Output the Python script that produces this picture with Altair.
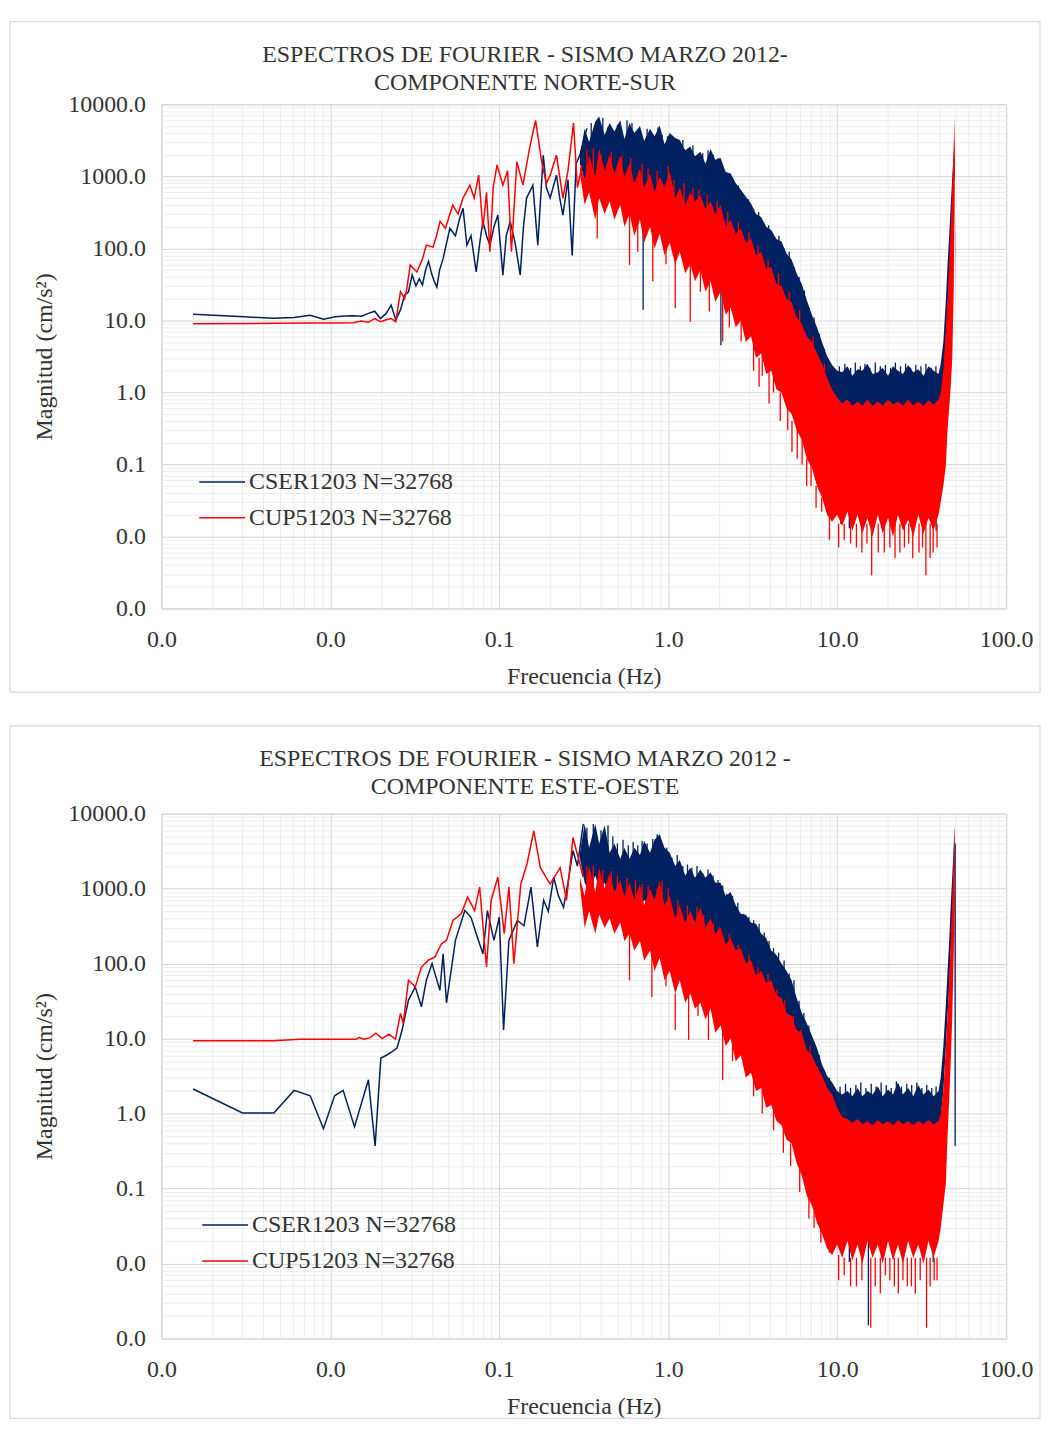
import altair as alt
import pandas as pd

FONT = "Liberation Serif"
NAVY = "#002060"
RED = "#FF0000"
CSER = "CSER1203 N=32768"
CUP = "CUP51203 N=32768"
TXT = "#333333"

TITLE_NS = ["ESPECTROS DE FOURIER - SISMO MARZO 2012-", "COMPONENTE NORTE-SUR"]
TITLE_EW = ["ESPECTROS DE FOURIER - SISMO MARZO 2012 -", "COMPONENTE ESTE-OESTE"]

# ---------- tick / grid values ----------
X_TICKS = [0.001, 0.002, 0.003, 0.004, 0.005, 0.006, 0.007, 0.008, 0.009,
           0.01, 0.02, 0.03, 0.04, 0.05, 0.06, 0.07, 0.08, 0.09,
           0.1, 0.2, 0.3, 0.4, 0.5, 0.6, 0.7, 0.8, 0.9,
           1, 2, 3, 4, 5, 6, 7, 8, 9,
           10, 20, 30, 40, 50, 60, 70, 80, 90, 100]
Y_TICKS = [0.001, 0.002, 0.003, 0.004, 0.005, 0.006, 0.007, 0.008, 0.009,
           0.01, 0.02, 0.03, 0.04, 0.05, 0.06, 0.07, 0.08, 0.09,
           0.1, 0.2, 0.3, 0.4, 0.5, 0.6, 0.7, 0.8, 0.9,
           1, 2, 3, 4, 5, 6, 7, 8, 9,
           10, 20, 30, 40, 50, 60, 70, 80, 90,
           100, 200, 300, 400, 500, 600, 700, 800, 900,
           1000, 2000, 3000, 4000, 5000, 6000, 7000, 8000, 9000, 10000]

# ---------- low-frequency (sparse) parts ----------
NS_CSER_LINE_F = [0.00154, 0.0031, 0.0046, 0.0061, 0.0076, 0.0091, 0.0107, 0.0122, 0.0137, 0.0153,
                  0.0168, 0.0183, 0.0198, 0.0214, 0.0229, 0.0244, 0.0260, 0.0275, 0.0290, 0.0305,
                  0.0321, 0.0336, 0.0351, 0.0366, 0.0381, 0.0397, 0.0412, 0.0427, 0.0443, 0.0465,
                  0.0488, 0.051, 0.055, 0.058, 0.061, 0.0643, 0.068, 0.073, 0.077, 0.080,
                  0.084, 0.088, 0.093, 0.098, 0.105, 0.110, 0.116, 0.124, 0.133, 0.139,
                  0.145, 0.158, 0.169, 0.182, 0.190, 0.200, 0.208, 0.218, 0.228, 0.238,
                  0.255, 0.270, 0.285, 0.300, 0.330]
NS_CSER_LINE_M = [12.2, 11.2, 10.7, 11.0, 11.8, 10.4, 11.2, 11.5, 11.6, 11.4,
                  12.5, 13.4, 10.6, 12.5, 16.3, 10.1, 14, 22.4, 25, 42.6,
                  30, 38, 31, 50, 66, 45, 35, 29, 50, 72,
                  120, 190, 150, 250, 360, 111, 150, 47, 130, 237,
                  150, 111, 200, 290, 42.6, 150, 237, 120, 42.6, 200,
                  500, 755, 111, 1970, 700, 500, 700, 1040, 500, 290,
                  900, 80, 1500, 1970, 4640]

NS_CUP_LINE_F = [0.00154, 0.0046, 0.0076, 0.0107, 0.0137, 0.0153, 0.0168, 0.0183, 0.0198, 0.0214,
                 0.0229, 0.0244, 0.0260, 0.0275, 0.0284, 0.0297, 0.0325, 0.0350, 0.0370, 0.0405,
                 0.0425, 0.0446, 0.0480, 0.0530, 0.0570, 0.0610, 0.0670, 0.0710, 0.0755, 0.0800,
                 0.0840, 0.0880, 0.0920, 0.0970, 0.1050, 0.1120, 0.1180, 0.1270, 0.1380, 0.1510,
                 0.1640, 0.1780, 0.1900, 0.2000, 0.2180, 0.2380, 0.2550, 0.2750, 0.2900, 0.3100]
NS_CUP_LINE_M = [9.0, 9.1, 9.2, 9.2, 9.3, 9.8, 9.4, 10.6, 9.6, 10.2,
                 10.6, 9.6, 25, 20, 28, 59, 47, 70, 111, 104,
                 150, 237, 190, 400, 300, 500, 755, 500, 1040, 190,
                 600, 90, 700, 1440, 755, 1200, 90, 1600, 755, 2450,
                 6000, 1600, 800, 1040, 1970, 500, 1200, 5500, 700, 1440]

EW_CSER_LINE_F = [0.00154, 0.00302, 0.00463, 0.0061, 0.0076, 0.0091, 0.0106, 0.0119, 0.0139, 0.0168,
                  0.0184, 0.0199, 0.0215, 0.0232, 0.0248, 0.0266, 0.0290, 0.0318, 0.0346, 0.0370,
                  0.0400, 0.0445, 0.0465, 0.0487, 0.0550, 0.0625, 0.0680, 0.0730, 0.0800, 0.0850,
                  0.0930, 0.1000, 0.1060, 0.1140, 0.1280, 0.1400, 0.1540, 0.1680, 0.1830, 0.1950,
                  0.2100, 0.2240, 0.2400, 0.2550, 0.2730, 0.2900, 0.3140]
EW_CSER_LINE_M = [2.13, 1.02, 1.02, 2.04, 1.73, 0.63, 1.73, 2.04, 0.67, 2.83,
                  0.37, 5.5, 6.0, 6.7, 7.5, 13, 32.6, 49, 26.6, 60,
                  100, 44, 135, 30, 204, 510, 415, 250, 135, 510,
                  204, 415, 13, 204, 377, 320, 1050, 167, 700, 500,
                  1420, 800, 565, 1200, 3200, 2000, 7300]

EW_CUP_LINE_F = [0.00154, 0.0046, 0.0066, 0.0107, 0.0142, 0.0148, 0.0158, 0.0172, 0.0186, 0.0203,
                 0.0222, 0.0243, 0.0260, 0.0270, 0.0290, 0.0318, 0.0346, 0.0380, 0.0416, 0.0455,
                 0.0487, 0.0532, 0.0595, 0.0650, 0.0714, 0.0765, 0.0840, 0.0895, 0.0980, 0.1070,
                 0.1140, 0.1220, 0.1340, 0.1460, 0.1600, 0.1750, 0.2000, 0.2290, 0.2500, 0.2730,
                 0.3140]
EW_CUP_LINE_M = [9.4, 9.4, 9.8, 9.8, 9.8, 10.4, 9.8, 10.3, 11.8, 10.0,
                 11.5, 9.8, 21.7, 16, 60, 49, 90, 111, 123, 184,
                 204, 377, 462, 770, 510, 1050, 90, 700, 1420, 250,
                 1050, 100, 1150, 2150, 5900, 1900, 1150, 1900, 700, 4800,
                 1420]

# ---------- dense part: envelope of the spectra (low / high) ----------
BAND_F = [0.30, 0.32, 0.34, 0.37, 0.39, 0.42, 0.45, 0.48, 0.52, 0.55,
          0.59, 0.63, 0.68, 0.72, 0.78, 0.83, 0.89, 0.95, 1.02, 1.10,
          1.17, 1.26, 1.35, 1.44, 1.55, 1.66, 1.78, 1.90, 2.04, 2.19,
          2.34, 2.51, 2.69, 2.88, 3.09, 3.31, 3.55, 3.80, 4.07, 4.37,
          4.68, 5.01, 5.37, 5.75, 6.17, 6.61, 7.08, 7.59, 8.13, 8.71,
          9.33, 10.0, 10.7, 11.5, 12.3, 13.2, 14.1, 15.1, 16.2, 17.4,
          18.6, 20.0, 21.4, 22.9, 24.5, 26.3, 28.2, 30.2, 32.4, 34.7,
          37.2, 39.8, 41.0, 42.5, 44.0, 45.0, 46.0, 47.0, 48.0, 49.0,
          49.5, 50.0]

NS_CSER_HI = [2000, 4600, 3000, 5800, 6800, 3800, 5500, 4200, 6000, 3300,
              5500, 4000, 5000, 3100, 4600, 3600, 5100, 2800, 4000, 3400,
              3200, 2300, 2600, 1900, 2200, 1500, 2400, 1700, 1800, 1150,
              1100, 800, 650, 520, 420, 300, 270, 200, 180, 135,
              125, 85, 70, 45, 32, 19, 12, 8, 5.0, 3.2,
              2.4, 2.0, 1.9, 2.3, 1.7, 2.1, 2.0, 2.5, 1.8, 1.9,
              2.2, 1.7, 2.3, 2.0, 1.8, 2.4, 1.9, 2.1, 1.7, 2.3,
              2.0, 1.8, 2.5, 5, 20, 60, 150, 400, 1000, 2000,
              3400, 100]
NS_CSER_LO = [1500, 900, 700, 1000, 800, 900, 700, 800, 700, 800,
              700, 600, 700, 500, 600, 500, 600, 400, 500, 300,
              300, 250, 250, 200, 220, 180, 200, 150, 150, 100,
              100, 70, 70, 50, 50, 35, 30, 20, 20, 12,
              10, 7, 6, 4, 3, 2, 1.5, 1.0, 0.8, 0.6,
              0.6, 0.62, 0.6, 0.65, 0.6, 0.62, 0.6, 0.65, 0.6, 0.62,
              0.6, 0.62, 0.6, 0.65, 0.6, 0.62, 0.6, 0.65, 0.6, 0.62,
              0.6, 0.6, 0.8, 1.5, 5, 15, 40, 100, 300, 800,
              1000, 30]
NS_CUP_HI = [1440, 900, 2000, 1000, 2450, 1200, 2000, 1100, 1970, 1000,
             1500, 800, 1300, 700, 1100, 600, 1000, 700, 1170, 500,
             700, 400, 600, 450, 550, 350, 450, 300, 400, 200,
             250, 160, 190, 120, 138, 80, 90, 52, 55, 32,
             30, 20, 18, 11, 9, 6, 5, 3.5, 2.5, 1.6,
             1.1, 0.85, 0.7, 0.8, 0.65, 0.75, 0.65, 0.8, 0.65, 0.75,
             0.65, 0.8, 0.68, 0.75, 0.65, 0.8, 0.66, 0.75, 0.65, 0.78,
             0.68, 0.8, 1.0, 2, 8, 20, 60, 200, 800, 3000,
             6800, 8]
NS_CUP_LO = [1100, 400, 600, 250, 500, 300, 450, 250, 400, 200,
             300, 150, 250, 120, 200, 100, 160, 80, 120, 60,
             90, 45, 60, 35, 50, 25, 35, 18, 25, 12,
             15, 8, 10, 5, 6, 3, 3.5, 1.8, 2, 1.1,
             1.0, 0.6, 0.5, 0.3, 0.22, 0.12, 0.09, 0.05, 0.035, 0.02,
             0.016, 0.02, 0.014, 0.022, 0.012, 0.02, 0.011, 0.018, 0.01, 0.02,
             0.011, 0.018, 0.01, 0.02, 0.012, 0.017, 0.01, 0.02, 0.011, 0.018,
             0.012, 0.02, 0.03, 0.05, 0.1, 0.3, 0.6, 1.2, 3, 30,
             1000, 8]

EW_CSER_HI = [3000, 7300, 3500, 7300, 4000, 7000, 3000, 4000, 2500, 3500,
              2500, 3500, 2800, 4300, 3000, 4500, 5300, 3500, 3000, 2000,
              2400, 1500, 1900, 1400, 1800, 1400, 1650, 1200, 1200, 800,
              900, 600, 460, 450, 350, 340, 250, 220, 150, 130,
              100, 80, 60, 35, 22, 16, 11, 7.5, 4.5, 3.2,
              2.6, 2.0, 1.8, 2.0, 1.7, 2.2, 1.7, 2.0, 1.8, 2.3,
              1.7, 2.1, 1.8, 2.6, 1.8, 2.2, 1.7, 2.4, 1.8, 2.1,
              1.7, 2.0, 3, 8, 30, 80, 200, 600, 1500, 4000,
              7000, 300]
EW_CSER_LO = [2500, 1200, 900, 1500, 1000, 1200, 800, 900, 700, 800,
              600, 700, 600, 700, 600, 700, 800, 500, 500, 300,
              300, 250, 250, 200, 220, 180, 200, 150, 150, 100,
              100, 70, 60, 50, 45, 35, 30, 25, 18, 15,
              12, 9, 7, 5, 3.5, 2.5, 1.8, 1.3, 1.0, 0.8,
              0.7, 0.65, 0.7, 0.68, 0.65, 0.7, 0.66, 0.7, 0.65, 0.7,
              0.66, 0.7, 0.65, 0.7, 0.66, 0.7, 0.65, 0.7, 0.66, 0.7,
              0.65, 0.7, 0.9, 2, 8, 20, 50, 150, 400, 1200,
              2000, 30]
EW_CUP_HI = [1400, 800, 2000, 900, 1900, 1000, 1600, 900, 1300, 800,
             1200, 700, 1150, 600, 1000, 700, 1280, 600, 800, 400,
             600, 350, 510, 350, 565, 300, 400, 250, 305, 180,
             220, 150, 160, 100, 111, 70, 80, 55, 60, 38,
             35, 22, 20, 13, 12, 7, 6, 4.2, 3.2, 2.2,
             1.8, 1.2, 0.9, 0.85, 0.75, 0.85, 0.72, 0.8, 0.7, 0.82,
             0.72, 0.8, 0.7, 0.82, 0.72, 0.8, 0.7, 0.8, 0.72, 0.82,
             0.72, 0.8, 1.0, 2, 8, 20, 60, 200, 800, 3000,
             6500, 20]
EW_CUP_LO = [1100, 300, 500, 250, 450, 300, 400, 250, 350, 200,
             250, 150, 200, 110, 150, 80, 120, 60, 80, 40,
             60, 30, 40, 25, 30, 18, 25, 12, 15, 8,
             10, 5, 6, 3, 3.5, 2, 2.2, 1.2, 1.3, 0.8,
             0.7, 0.45, 0.4, 0.22, 0.15, 0.08, 0.06, 0.035, 0.025, 0.016,
             0.013, 0.018, 0.012, 0.02, 0.011, 0.018, 0.01, 0.02, 0.012, 0.018,
             0.01, 0.02, 0.011, 0.018, 0.01, 0.02, 0.012, 0.018, 0.01, 0.02,
             0.012, 0.02, 0.03, 0.06, 0.12, 0.5, 1.5, 5, 20, 150,
             800, 20]

# ---------- individual spikes (frequency, tip, base) ----------
NS_CSER_SPIKES = [
    (0.35, 5500, 2000), (0.41, 6500, 2500), (0.44, 4800, 2500), (0.50, 5200, 2000),
    (0.57, 6000, 2500), (0.61, 5500, 2000), (0.66, 4200, 2000), (0.71, 14, 800),
    (0.75, 4600, 1800), (0.80, 3800, 1800), (0.87, 4800, 2000), (0.92, 3800, 1500),
    (0.99, 3600, 1500), (1.06, 3200, 1500), (1.14, 3000, 1200), (1.22, 3200, 1200),
    (1.31, 2400, 1000), (1.40, 2700, 1000), (1.50, 1800, 900), (1.60, 2100, 800),
    (1.72, 2300, 800), (1.85, 2000, 700), (1.97, 1800, 600), (2.05, 4.5, 150),
    (2.12, 1300, 500), (2.27, 1000, 400), (2.43, 900, 300), (2.60, 750, 250),
    (2.78, 550, 200), (2.98, 480, 150), (3.20, 350, 120), (3.43, 320, 100),
    (3.67, 230, 80), (3.93, 210, 60), (4.22, 140, 50), (4.52, 150, 40),
    (4.85, 100, 30), (5.20, 90, 25), (5.55, 55, 15), (5.95, 40, 10),
    (6.40, 26, 8), (6.85, 15, 5), (7.30, 11, 3), (7.85, 6.5, 2), (8.40, 4, 1.2),
    (10.3, 2.3, 1), (10.5, 0.015, 0.6), (11.1, 2.5, 1), (11.8, 0.013, 0.6),
    (12.0, 2.2, 1), (12.8, 2.6, 1), (13.5, 0.02, 0.6), (13.7, 2.3, 1),
    (14.6, 2.5, 1), (15.6, 2.2, 1), (16.8, 2.6, 1), (18.0, 2.3, 1),
    (19.3, 2.4, 1), (20.7, 2.2, 1), (22.1, 2.6, 1), (23.7, 2.3, 1),
    (25.4, 2.5, 1), (27.2, 2.2, 1), (29.2, 2.4, 1), (31.3, 2.3, 1),
    (33.5, 2.5, 1), (36.0, 2.2, 1), (38.4, 2.3, 1), (38.5, 0.012, 0.6),
]
NS_CUP_SPIKES = [
    (0.33, 2400, 1000), (0.36, 2450, 1000), (0.38, 138, 600), (0.40, 2000, 900),
    (0.46, 2200, 900), (0.53, 1900, 800), (0.59, 59, 300), (0.60, 1800, 700),
    (0.66, 90, 250), (0.70, 1500, 600), (0.76, 1300, 500), (0.81, 35, 200),
    (0.86, 1200, 500), (0.97, 60, 120), (1.00, 1400, 500), (1.08, 900, 400),
    (1.10, 14.7, 90), (1.24, 800, 300), (1.35, 9.6, 60), (1.40, 700, 250),
    (1.52, 650, 250), (1.55, 25, 50), (1.70, 550, 200), (1.75, 13.3, 35),
    (1.95, 450, 150), (2.10, 5.1, 25), (2.25, 320, 100), (2.30, 8, 15),
    (2.60, 230, 80), (2.70, 5.1, 10), (3.00, 170, 60), (3.20, 2, 6),
    (3.40, 110, 40), (3.45, 1.2, 3), (3.60, 1.7, 3.5), (3.90, 70, 25),
    (3.95, 0.7, 2), (4.20, 1.0, 2), (4.50, 45, 15), (4.60, 0.4, 1),
    (5.10, 0.3, 0.6), (5.20, 25, 8), (5.40, 0.15, 0.4), (5.80, 0.12, 0.3),
    (6.00, 14, 4), (6.20, 0.1, 0.22), (6.60, 0.05, 0.12), (7.00, 0.05, 0.1),
    (7.20, 6, 2), (7.50, 0.025, 0.05), (8.10, 0.022, 0.035), (8.40, 2.5, 0.8),
    (9.00, 0.009, 0.02), (10.2, 0.007, 0.015), (11.0, 0.009, 0.015), (12.0, 0.008, 0.02),
    (13.0, 0.007, 0.015), (14.0, 0.006, 0.015), (15.0, 0.008, 0.015), (16.0, 0.0029, 0.015),
    (17.5, 0.006, 0.015), (19.0, 0.006, 0.015), (20.5, 0.007, 0.015), (22.0, 0.005, 0.015),
    (23.5, 0.006, 0.015), (25.0, 0.007, 0.015), (26.5, 0.008, 0.015), (28.0, 0.005, 0.015),
    (30.5, 0.006, 0.015), (32.0, 0.007, 0.015), (33.5, 0.0029, 0.015), (35.5, 0.005, 0.015),
    (37.0, 0.006, 0.015), (39.0, 0.007, 0.015),
]
EW_CSER_SPIKES = [
    (0.33, 6500, 2500), (0.36, 7300, 3000), (0.40, 6000, 2500), (0.44, 7000, 3000),
    (0.47, 5000, 2000), (0.50, 4000, 1800), (0.54, 4500, 1800), (0.58, 3800, 1800),
    (0.62, 4200, 1800), (0.66, 3800, 1800), (0.70, 4300, 2000), (0.75, 4000, 1800),
    (0.81, 4600, 2000), (0.86, 5300, 2000), (0.91, 4200, 1800), (0.98, 3500, 1500),
    (1.05, 2600, 1200), (1.13, 2800, 1200), (1.22, 2000, 900), (1.30, 2100, 900),
    (1.38, 1900, 800), (1.48, 2000, 800), (1.60, 1600, 700), (1.72, 1800, 700),
    (1.84, 1500, 600), (1.97, 1300, 500), (2.10, 1100, 450), (2.22, 850, 400),
    (2.40, 800, 350), (2.58, 650, 250), (2.78, 460, 200), (3.00, 420, 150),
    (3.20, 380, 130), (3.45, 340, 110), (3.70, 260, 90), (3.95, 200, 70),
    (4.20, 160, 55), (4.50, 140, 45), (4.85, 110, 35), (5.20, 74, 25),
    (5.55, 60, 18), (5.95, 32, 10), (6.35, 22, 7), (6.80, 15, 5),
    (7.30, 9, 3), (7.85, 6, 2), (8.40, 3.8, 1.3), (9.00, 3.0, 1.1),
    (10.4, 2.3, 1), (10.7, 0.02, 0.65), (11.2, 2.5, 1), (11.8, 0.0105, 0.65),
    (12.0, 2.2, 1), (12.9, 2.4, 1), (13.8, 2.6, 1), (14.8, 2.2, 1),
    (15.3, 0.0015, 0.65), (15.9, 2.5, 1), (17.0, 2.3, 1), (18.2, 2.6, 1),
    (19.5, 2.4, 1), (20.9, 2.2, 1), (22.4, 2.7, 1), (24.0, 2.3, 1),
    (25.8, 2.5, 1), (27.6, 2.4, 1), (29.6, 2.6, 1), (31.7, 2.2, 1),
    (33.9, 2.4, 1), (36.3, 2.2, 1), (37.0, 0.0105, 0.65), (38.5, 2.3, 1),
    (49.9, 0.37, 4000),
]
EW_CUP_SPIKES = [
    (0.33, 2000, 900), (0.36, 2000, 900), (0.41, 1800, 800), (0.46, 1700, 800),
    (0.50, 1500, 700), (0.57, 1400, 600), (0.59, 60, 250), (0.64, 1300, 500),
    (0.70, 1150, 500), (0.76, 1100, 450), (0.80, 36, 150), (0.86, 1000, 400),
    (0.92, 1280, 450), (0.97, 50, 80), (1.00, 1000, 400), (1.10, 13, 40),
    (1.14, 700, 300), (1.30, 600, 250), (1.32, 9.6, 40), (1.48, 565, 230),
    (1.50, 20, 30), (1.62, 450, 180), (1.73, 9.6, 25), (1.85, 350, 150),
    (2.00, 305, 130), (2.10, 2.8, 15), (2.30, 250, 100), (2.40, 5, 10),
    (2.60, 180, 70), (3.00, 130, 50), (3.20, 1.7, 3.5), (3.40, 90, 35),
    (3.60, 1.0, 2.2), (3.90, 74, 25), (4.20, 0.6, 1.3), (4.40, 45, 15),
    (4.80, 0.3, 0.7), (4.90, 33, 12), (5.30, 0.2, 0.4), (5.50, 20, 7),
    (6.00, 0.09, 0.2), (6.10, 13, 4), (6.80, 0.04, 0.08), (6.90, 8, 2.5),
    (7.30, 0.03, 0.05), (7.60, 4.3, 1.2), (8.00, 0.019, 0.03), (8.50, 2.4, 0.8),
    (9.00, 0.014, 0.02), (10.2, 0.006, 0.013), (11.0, 0.007, 0.012), (12.0, 0.005, 0.012),
    (13.0, 0.005, 0.012), (14.0, 0.006, 0.012), (15.8, 0.0014, 0.012), (16.8, 0.005, 0.012),
    (18.0, 0.004, 0.012), (19.3, 0.007, 0.012), (20.5, 0.006, 0.012), (21.8, 0.005, 0.012),
    (23.0, 0.004, 0.012), (24.5, 0.006, 0.012), (26.0, 0.005, 0.012), (27.5, 0.005, 0.012),
    (29.0, 0.004, 0.012), (31.0, 0.006, 0.012), (33.8, 0.0014, 0.012), (35.5, 0.005, 0.012),
    (37.5, 0.006, 0.012), (39.0, 0.006, 0.012),
]

MAJOR = "abs(log(datum.value)/LN10 - round(log(datum.value)/LN10)) < 0.000001"
GRID = {"condition": {"test": MAJOR, "value": "#d4d4d4"}, "value": "#ededed"}


def x_axis():
    return alt.Axis(values=X_TICKS, title="Frecuencia (Hz)",
                    labelExpr=MAJOR + " ? format(datum.value, '.1f') : ''",
                    grid=True, gridColor=GRID,
                    ticks=False, domain=False, labelOverlap=False, labelFlush=False,
                    labelPadding=19, titlePadding=13)


def y_axis():
    return alt.Axis(values=Y_TICKS, title="Magnitud (cm/s²)",
                    labelExpr=MAJOR + " ? format(datum.value, '.1f') : ''",
                    grid=True, gridColor=GRID,
                    ticks=False, domain=False, labelOverlap=False, labelFlush=False,
                    labelPadding=16, titlePadding=11)


COLOR_SCALE = alt.Scale(domain=[CSER, CUP], range=[NAVY, RED])


def panel(title, lines, bands, spikes, width, height, lx, ly, toff, frame):
    xs = alt.Scale(type="log", domain=[0.001, 100])
    ys = alt.Scale(type="log", domain=[0.001, 10000])
    legend = alt.Legend(title=None, orient="none", legendX=lx, legendY=ly,
                        symbolType="stroke", symbolSize=2116, symbolStrokeWidth=1.5,
                        labelFont=FONT, labelFontSize=24, labelColor=TXT, labelLimit=400,
                        rowPadding=0, labelOffset=3, padding=0)
    fl, fr, ft, fb = frame
    # light grey chart-area frame (decoration, outside the plot area)
    layers = [
        alt.Chart(pd.DataFrame({"k": [0]})).mark_rect(
            fillOpacity=0, stroke="#d9d9d9", strokeWidth=1.2
        ).encode(x=alt.value(fl), x2=alt.value(fr), y=alt.value(ft), y2=alt.value(fb))
    ]
    for (name, col, lf, lm), (bf, blo, bhi), spk in zip(lines, bands, spikes):
        ldf = pd.DataFrame({"f": lf, "m": lm, "s": name})
        bdf = pd.DataFrame({"f": bf, "lo": blo, "hi": bhi})
        sdf = pd.DataFrame(spk, columns=["f", "tip", "base"])
        layers.append(
            alt.Chart(ldf).mark_line(strokeWidth=1.5, clip=True).encode(
                x=alt.X("f:Q", scale=xs, axis=x_axis()),
                y=alt.Y("m:Q", scale=ys, axis=y_axis()),
                color=alt.Color("s:N", scale=COLOR_SCALE, legend=legend),
            )
        )
        layers.append(
            alt.Chart(bdf).mark_area(color=col, opacity=1, clip=True).encode(
                x=alt.X("f:Q", scale=xs, axis=x_axis()),
                y=alt.Y("lo:Q", scale=ys, axis=y_axis()),
                y2="hi:Q",
            )
        )
        layers.append(
            alt.Chart(sdf).mark_rule(color=col, strokeWidth=1.3, clip=True).encode(
                x=alt.X("f:Q", scale=xs, axis=x_axis()),
                y=alt.Y("tip:Q", scale=ys, axis=y_axis()),
                y2="base:Q",
            )
        )
    return alt.layer(*layers).properties(
        width=width, height=height,
        title=alt.TitleParams(text=title, font=FONT, fontSize=24, fontWeight="normal",
                              color=TXT, frame="bounds", anchor="middle", offset=toff,
                              lineHeight=28),
    )


ns = panel(
    TITLE_NS,
    [(CSER, NAVY, NS_CSER_LINE_F, NS_CSER_LINE_M), (CUP, RED, NS_CUP_LINE_F, NS_CUP_LINE_M)],
    [(BAND_F, NS_CSER_LO, NS_CSER_HI), (BAND_F, NS_CUP_LO, NS_CUP_HI)],
    [NS_CSER_SPIKES, NS_CUP_SPIKES],
    848, 506, 37, 355, -74, (-152, 882, -83, 590),
)
ew = panel(
    TITLE_EW,
    [(CSER, NAVY, EW_CSER_LINE_F, EW_CSER_LINE_M), (CUP, RED, EW_CUP_LINE_F, EW_CUP_LINE_M)],
    [(BAND_F, EW_CSER_LO, EW_CSER_HI), (BAND_F, EW_CUP_LO, EW_CUP_HI)],
    [EW_CSER_SPIKES, EW_CUP_SPIKES],
    848, 527, 40, 389, -74, (-152, 882, -88, 607),
)

chart = (
    alt.vconcat(ns, ew, spacing=30)
    .resolve_scale(x="independent", y="independent")
    .resolve_legend(color="independent")
    .properties(padding={"left": 0, "top": 9, "right": 0, "bottom": 4}, background="white")
    .configure_view(stroke="#d4d4d4")
    .configure_axis(labelFont=FONT, titleFont=FONT, labelFontSize=24, titleFontSize=24,
                    labelColor=TXT, titleColor=TXT, titleFontWeight="normal")
)

chart.save("out.html", embed_options={"renderer": "svg", "actions": False})
